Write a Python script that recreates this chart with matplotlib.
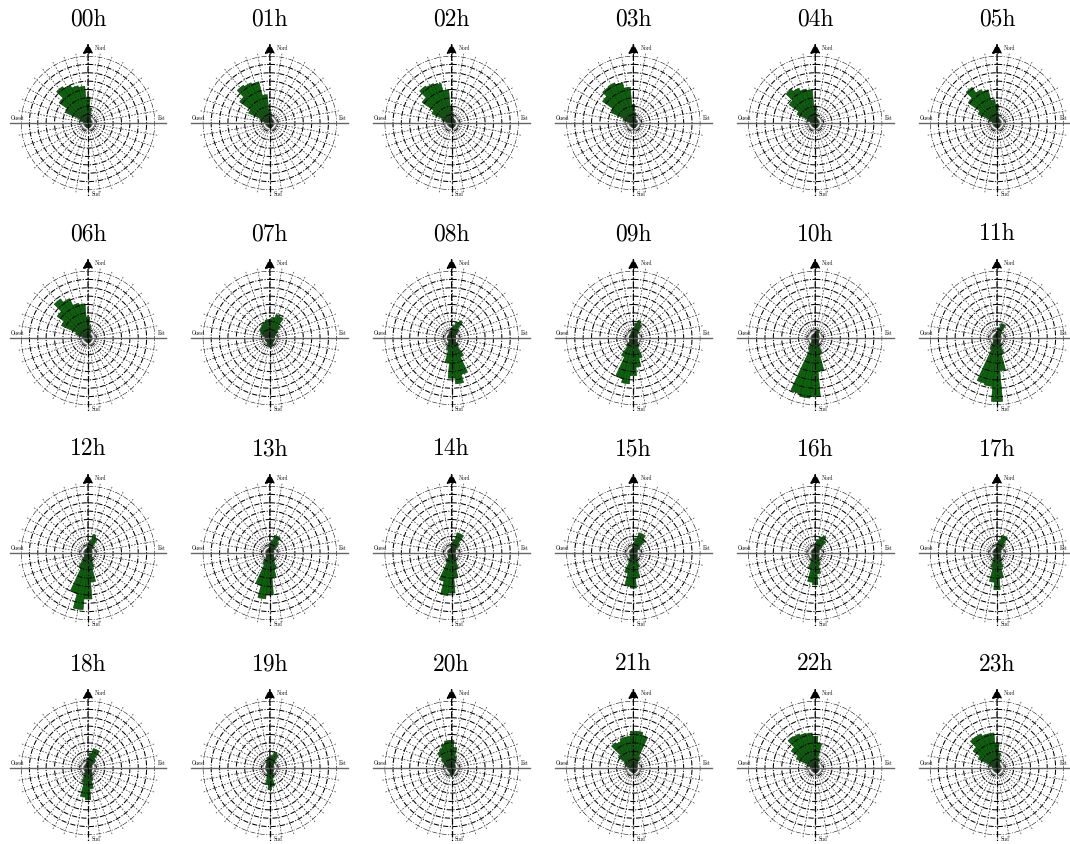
import numpy as np
import matplotlib
matplotlib.use("Agg")
import matplotlib.pyplot as plt

# wind rose frequencies per hour, 36 sectors of 10 deg (0 = North, clockwise)
hours = ["%02dh" % h for h in range(24)]
directions = np.arange(0, 360, 10)
rings = np.arange(1, 9)

h00 = [3.1, 1.8, 0.8, 0.6, 0.5, 0.4, 0.4, 0.4, 0.4, 0.4, 0.4, 0.4,
       0.4, 0.4, 0.5, 0.5, 0.6, 0.6, 0.6, 0.6, 0.5, 0.5, 0.4, 0.4,
       0.4, 0.4, 0.4, 0.5, 0.6, 1.0, 3.0, 4.2, 5.3, 5.0, 4.6, 4.4]
h01 = [1.6, 1.0, 0.6, 0.5, 0.4, 0.4, 0.4, 0.4, 0.4, 0.4, 0.4, 0.4,
       0.4, 0.4, 0.5, 0.5, 0.6, 0.6, 0.6, 0.5, 0.5, 0.4, 0.4, 0.4,
       0.4, 0.4, 0.4, 0.5, 0.7, 1.2, 2.8, 4.4, 5.5, 5.3, 5.1, 3.4]
h02 = [2.0, 1.0, 0.6, 0.5, 0.4, 0.4, 0.4, 0.4, 0.4, 0.4, 0.4, 0.4,
       0.4, 0.4, 0.5, 0.5, 0.6, 0.6, 0.6, 0.5, 0.5, 0.4, 0.4, 0.4,
       0.4, 0.4, 0.4, 0.5, 0.7, 1.2, 2.6, 4.3, 5.4, 5.2, 4.9, 4.0]
h03 = [2.2, 1.2, 0.7, 0.5, 0.4, 0.4, 0.4, 0.4, 0.4, 0.4, 0.4, 0.4,
       0.4, 0.4, 0.5, 0.5, 0.6, 0.6, 0.6, 0.5, 0.5, 0.4, 0.4, 0.4,
       0.4, 0.4, 0.4, 0.5, 0.7, 1.3, 3.0, 4.5, 5.2, 5.3, 5.0, 4.3]
h04 = [2.0, 1.0, 0.6, 0.5, 0.4, 0.4, 0.4, 0.4, 0.4, 0.4, 0.4, 0.4,
       0.4, 0.4, 0.5, 0.5, 0.6, 0.6, 0.6, 0.5, 0.5, 0.4, 0.4, 0.4,
       0.4, 0.4, 0.4, 0.5, 0.6, 1.0, 2.4, 3.8, 4.9, 4.6, 4.2, 4.0]
h05 = [2.2, 1.0, 0.6, 0.5, 0.4, 0.4, 0.4, 0.4, 0.4, 0.4, 0.4, 0.4,
       0.4, 0.4, 0.5, 0.5, 0.6, 0.6, 0.6, 0.5, 0.5, 0.4, 0.4, 0.4,
       0.4, 0.4, 0.4, 0.5, 0.6, 1.0, 2.5, 4.2, 5.2, 4.4, 4.1, 2.8]
h06 = [2.5, 1.5, 0.8, 0.5, 0.4, 0.4, 0.4, 0.4, 0.4, 0.4, 0.4, 0.4,
       0.4, 0.4, 0.5, 0.5, 0.6, 0.6, 0.6, 0.5, 0.5, 0.4, 0.4, 0.4,
       0.4, 0.4, 0.4, 0.5, 0.7, 1.5, 3.5, 4.5, 5.7, 5.2, 4.3, 4.1]
h07 = [2.2, 2.5, 2.9, 2.8, 1.8, 1.2, 0.8, 0.6, 0.6, 0.6, 0.6, 0.6,
       0.6, 0.6, 0.6, 0.7, 0.9, 1.1, 1.1, 1.0, 0.8, 0.6, 0.6, 0.6,
       0.6, 0.6, 0.6, 0.6, 0.6, 0.8, 1.2, 1.5, 1.6, 1.8, 2.0, 2.2]
h08 = [1.2, 1.5, 2.0, 2.3, 1.3, 0.8, 0.5, 0.5, 0.5, 0.5, 0.5, 0.5,
       0.5, 0.6, 1.2, 2.5, 4.5, 5.5, 4.8, 3.0, 1.5, 0.8, 0.5, 0.5,
       0.5, 0.5, 0.5, 0.5, 0.5, 0.5, 0.5, 0.5, 0.5, 0.6, 0.7, 0.8]
h09 = [1.2, 1.8, 2.2, 1.8, 1.0, 0.6, 0.5, 0.5, 0.5, 0.5, 0.5, 0.5,
       0.5, 0.6, 0.8, 1.2, 2.5, 3.5, 4.5, 5.5, 5.0, 2.5, 1.2, 0.6,
       0.5, 0.5, 0.5, 0.5, 0.5, 0.5, 0.5, 0.5, 0.5, 0.6, 0.7, 0.8]
h10 = [0.6, 0.8, 1.0, 0.8, 0.6, 0.5, 0.4, 0.4, 0.4, 0.4, 0.4, 0.4,
       0.4, 0.5, 0.6, 1.0, 2.0, 4.0, 7.0, 7.2, 6.9, 1.5, 0.7, 0.5,
       0.4, 0.4, 0.4, 0.4, 0.4, 0.4, 0.4, 0.4, 0.4, 0.4, 0.5, 0.5]
h11 = [0.8, 1.2, 1.8, 1.8, 0.9, 0.6, 0.5, 0.4, 0.4, 0.4, 0.4, 0.4,
       0.5, 0.5, 0.6, 1.0, 2.0, 3.9, 7.6, 5.8, 5.6, 1.5, 0.7, 0.5,
       0.4, 0.4, 0.4, 0.4, 0.4, 0.4, 0.4, 0.4, 0.4, 0.4, 0.5, 0.6]
h12 = [0.9, 1.5, 2.3, 2.0, 1.0, 0.6, 0.5, 0.4, 0.4, 0.4, 0.4, 0.4,
       0.5, 0.6, 0.8, 1.0, 1.8, 3.5, 5.5, 6.8, 5.0, 2.0, 0.8, 0.5,
       0.4, 0.4, 0.4, 0.4, 0.4, 0.4, 0.4, 0.4, 0.4, 0.5, 0.5, 0.6]
h13 = [0.9, 1.5, 2.2, 2.2, 1.5, 0.8, 0.5, 0.4, 0.4, 0.4, 0.4, 0.4,
       0.5, 0.6, 0.8, 1.0, 2.0, 3.0, 5.0, 5.5, 4.0, 1.5, 0.7, 0.5,
       0.4, 0.4, 0.4, 0.4, 0.4, 0.4, 0.4, 0.4, 0.4, 0.5, 0.5, 0.6]
h14 = [1.0, 1.6, 2.5, 2.5, 1.4, 0.7, 0.5, 0.4, 0.4, 0.4, 0.4, 0.4,
       0.5, 0.6, 0.8, 1.0, 2.0, 3.0, 4.8, 5.1, 3.5, 1.2, 0.6, 0.5,
       0.4, 0.4, 0.4, 0.4, 0.4, 0.4, 0.4, 0.4, 0.4, 0.5, 0.5, 0.6]
h15 = [1.0, 1.8, 2.5, 2.5, 2.0, 0.9, 0.5, 0.4, 0.4, 0.4, 0.4, 0.4,
       0.5, 0.6, 0.7, 1.0, 1.8, 3.0, 4.2, 4.0, 2.5, 1.0, 0.6, 0.5,
       0.4, 0.4, 0.4, 0.4, 0.4, 0.4, 0.4, 0.4, 0.4, 0.5, 0.5, 0.6]
h16 = [1.0, 1.6, 2.0, 2.3, 1.8, 0.8, 0.5, 0.4, 0.4, 0.4, 0.4, 0.4,
       0.5, 0.5, 0.7, 0.9, 1.5, 2.5, 3.8, 3.5, 2.0, 0.9, 0.6, 0.5,
       0.4, 0.4, 0.4, 0.4, 0.4, 0.4, 0.4, 0.4, 0.4, 0.5, 0.5, 0.6]
h17 = [1.0, 1.5, 2.2, 2.2, 1.4, 0.7, 0.5, 0.4, 0.4, 0.4, 0.4, 0.4,
       0.5, 0.5, 0.7, 1.0, 1.8, 3.0, 4.4, 3.5, 1.8, 0.8, 0.5, 0.5,
       0.4, 0.4, 0.4, 0.4, 0.4, 0.4, 0.4, 0.4, 0.4, 0.5, 0.5, 0.6]
h18 = [1.2, 1.8, 2.4, 2.4, 1.3, 0.7, 0.5, 0.4, 0.4, 0.4, 0.4, 0.4,
       0.5, 0.5, 0.7, 0.9, 1.5, 2.5, 3.8, 3.5, 1.8, 0.8, 0.5, 0.5,
       0.4, 0.4, 0.4, 0.4, 0.4, 0.4, 0.4, 0.4, 0.4, 0.5, 0.6, 0.8]
h19 = [1.4, 1.5, 2.0, 1.8, 1.0, 0.6, 0.5, 0.4, 0.4, 0.4, 0.4, 0.4,
       0.5, 0.5, 0.6, 0.8, 1.2, 2.2, 2.6, 2.0, 1.0, 0.6, 0.5, 0.5,
       0.4, 0.4, 0.4, 0.4, 0.4, 0.4, 0.4, 0.5, 0.6, 0.8, 1.0, 1.3]
h20 = [3.3, 2.5, 1.5, 0.9, 0.6, 0.5, 0.4, 0.4, 0.4, 0.4, 0.4, 0.4,
       0.5, 0.5, 0.5, 0.6, 0.7, 0.8, 1.0, 0.8, 0.6, 0.5, 0.5, 0.5,
       0.5, 0.5, 0.5, 0.5, 0.6, 0.8, 1.0, 1.5, 2.4, 2.6, 3.0, 3.3]
h21 = [4.4, 4.4, 4.0, 1.5, 0.8, 0.6, 0.4, 0.4, 0.4, 0.4, 0.4, 0.4,
       0.4, 0.4, 0.5, 0.5, 0.6, 0.6, 0.6, 0.5, 0.5, 0.4, 0.4, 0.4,
       0.5, 0.5, 0.5, 0.5, 0.7, 0.9, 1.2, 2.2, 3.7, 3.5, 3.8, 3.8]
h22 = [3.8, 3.0, 1.2, 0.7, 0.5, 0.4, 0.4, 0.4, 0.4, 0.4, 0.4, 0.4,
       0.4, 0.4, 0.5, 0.5, 0.6, 0.6, 0.6, 0.5, 0.5, 0.4, 0.4, 0.4,
       0.4, 0.4, 0.5, 0.5, 0.6, 1.0, 2.5, 3.5, 4.6, 4.5, 4.3, 4.2]
h23 = [3.0, 1.8, 0.9, 0.6, 0.5, 0.4, 0.4, 0.4, 0.4, 0.4, 0.4, 0.4,
       0.4, 0.4, 0.5, 0.5, 0.6, 0.6, 0.6, 0.5, 0.5, 0.4, 0.4, 0.4,
       0.4, 0.4, 0.5, 0.5, 0.6, 1.0, 2.5, 3.5, 4.5, 4.5, 4.2, 4.2]

roses = [h00, h01, h02, h03, h04, h05, h06, h07, h08, h09, h10, h11,
         h12, h13, h14, h15, h16, h17, h18, h19, h20, h21, h22, h23]

W, H = 1070, 844
R = 67            # rose radius in pixels
RMAX = rings[-1]
serif = "cmr10"

fig = plt.figure(figsize=(W / 100, H / 100), dpi=100)

theta = np.deg2rad(directions)
circle = np.linspace(0, 2 * np.pi, 361)

for k, (label, vals) in enumerate(zip(hours, roses)):
    row, col = divmod(k, 6)
    cx = 88 + col * 181.8
    cy = 123 + row * 215.0
    ax = fig.add_axes([(cx - R) / W, 1 - (cy + R) / H, 2 * R / W, 2 * R / H],
                      projection="polar")
    ax.set_theta_zero_location("N")
    ax.set_theta_direction(-1)
    ax.set_ylim(0, RMAX)
    ax.set_axis_off()

    # bars
    ax.bar(theta, vals, width=np.deg2rad(10), bottom=0,
           color="#0b640b", edgecolor="#063806", linewidth=0.4, zorder=2)

    # rings
    for r in rings:
        ax.plot(circle, np.full_like(circle, r), color="black", lw=0.75,
                ls=(0, (5, 1.5, 1, 1.5)), zorder=3)
    # spokes
    for t in theta:
        ax.plot([t, t], [0, RMAX * 1.05], color="0.2", lw=0.5,
                ls=(0, (2.5, 2)), zorder=3, clip_on=False)

    # main axes lines
    ax.plot([np.pi / 2, np.pi / 2], [0, RMAX * 1.17], color="0.4", lw=1.0,
            zorder=4, clip_on=False)
    ax.plot([3 * np.pi / 2, 3 * np.pi / 2], [0, RMAX * 1.17], color="0.4",
            lw=1.0, zorder=4, clip_on=False)
    ax.plot([np.pi, np.pi], [0, RMAX * 1.12], color="black", lw=0.9,
            ls=(0, (5, 2, 1, 2)), zorder=4, clip_on=False)
    ax.annotate("", xy=(0, RMAX * 1.19), xytext=(0, 0),
                arrowprops=dict(arrowstyle="-|>", color="black", lw=0.9,
                                ls=(0, (5, 2, 1, 2)), mutation_scale=15,
                                shrinkA=0, shrinkB=0),
                annotation_clip=False, zorder=5)

    # cardinal labels
    kw = dict(fontsize=3.8, family=serif, annotation_clip=False,
              textcoords="offset points")
    ax.annotate("Nord", xy=(0, RMAX * 1.12), xytext=(5, 0), ha="left",
                va="center", **kw)
    est_dx = -4.5 if col == 5 else 0
    ax.annotate("Est", xy=(np.pi / 2, RMAX * 1.15), xytext=(est_dx, 1.5),
                ha="right", va="bottom", **kw)
    ax.annotate("Ouest", xy=(3 * np.pi / 2, RMAX * 1.16), xytext=(0, 1.5),
                ha="left", va="bottom", **kw)
    ax.annotate("Sud", xy=(np.pi, RMAX * 1.06), xytext=(2.5, 0), ha="left",
                va="center", **kw)

    fig.text(cx / W, 1 - (cy - 104) / H, label, ha="center", va="center",
             fontsize=17, family=serif)

fig.savefig("out.png", dpi=100)
